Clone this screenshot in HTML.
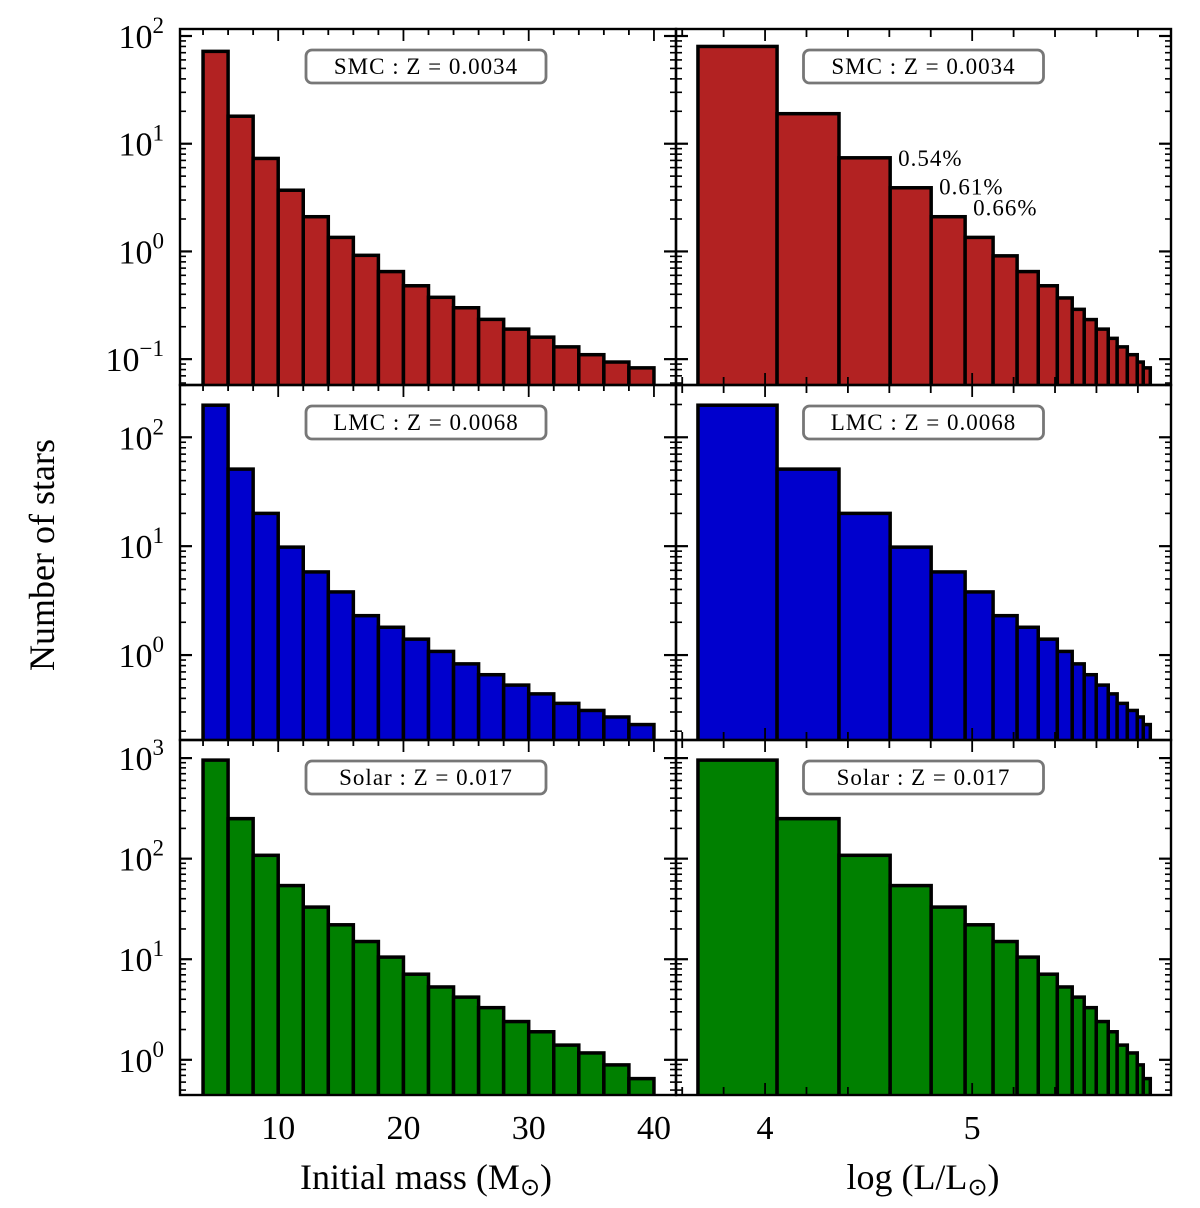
<!DOCTYPE html>
<html><head><meta charset="utf-8"><style>
body{margin:0;background:#fff;width:1200px;height:1208px;overflow:hidden}
svg{display:block;font-family:"Liberation Serif",serif}
</style></head><body>
<svg id="fig" width="1200" height="1208"></svg>
<script>
const massEdges=[4,6,8,10,12,14,16,18,20,22,24,26,28,30,32,34,36,38,40];
const lumEdges=[3.676,4.058,4.357,4.604,4.802,4.966,5.101,5.217,5.319,5.411,5.483,5.541,5.599,5.657,5.700,5.749,5.797,5.826,5.860];
const smcValues=[72,18,7.3,3.7,2.1,1.35,0.92,0.65,0.48,0.375,0.30,0.234,0.19,0.16,0.13,0.11,0.094,0.083];
const smcLumValues=[80,19,7.4,3.9,2.1,1.35,0.91,0.65,0.48,0.37,0.29,0.233,0.19,0.156,0.13,0.11,0.094,0.083];
const lmcValues=[197,51,20,9.8,5.8,3.8,2.3,1.8,1.4,1.08,0.83,0.66,0.53,0.44,0.36,0.31,0.27,0.23];
const solarValues=[955,250,108,54,33,22,15,10.5,7.1,5.3,4.2,3.3,2.4,1.9,1.4,1.17,0.89,0.65];
const rowNames=["SMC : Z = 0.0034","LMC : Z = 0.0068","Solar : Z = 0.017"];
const massTicks=[10,20,30,40];
const lumTicks=[4,5];
const pctLabels=["0.54%","0.61%","0.66%"];
const pctBins=[2,3,4];

const NS="http://www.w3.org/2000/svg";
const svg=document.getElementById('fig');
function mk(tag,attrs,parent){const e=document.createElementNS(NS,tag);for(const k in attrs)e.setAttribute(k,attrs[k]);(parent||svg).appendChild(e);return e;}
const defs=mk('defs',{});

const XL=[180,676],XR=[676,1171];
const massDom=[2.16,41.76],lumDom=[3.57,5.96];
const rows=[
 {y0:29,y1:385,lo:-1.24,hi:2.065,ticks:[-1,0,1,2],vals:smcValues,lvals:smcLumValues,color:"#b22222"},
 {y0:385,y1:740,lo:-0.78,hi:2.48,ticks:[0,1,2],vals:lmcValues,lvals:lmcValues,color:"#0000cd"},
 {y0:740,y1:1095,lo:-0.35,hi:3.18,ticks:[0,1,2,3],vals:solarValues,lvals:solarValues,color:"#008000"}];
function sx(v,dom,rng){return rng[0]+(v-dom[0])/(dom[1]-dom[0])*(rng[1]-rng[0]);}
function sy(v,r){const l=Math.log10(v);return r.y1-(l-r.lo)/(r.hi-r.lo)*(r.y1-r.y0);}

rows.forEach((r,ri)=>{
 [[XL,massDom,massEdges,r.vals,'mass'],[XR,lumDom,lumEdges,r.lvals,'lum']].forEach(([rng,dom,edges,vals,kind])=>{
  const cid=`clip-${kind}-${ri}`;
  const cp=mk('clipPath',{id:cid},defs);
  mk('rect',{x:rng[0],y:r.y0,width:rng[1]-rng[0],height:r.y1-r.y0},cp);
  const g=mk('g',{});
  
  
  const bg=mk('g',{'clip-path':`url(#${cid})`},g);
  vals.forEach((v,i)=>{
   const x0=sx(edges[i],dom,rng),x1=sx(edges[i+1],dom,rng),yt=sy(v,r);
   const b=mk('rect',{x:x0,y:yt,width:x1-x0,height:r.y1-yt+6,fill:r.color,stroke:'#000','stroke-width':3.5},bg);
   
   
  });
  for(let d=Math.floor(r.lo);d<=Math.ceil(r.hi);d++){
   for(let m=1;m<10;m++){
    const l=d+Math.log10(m); if(l<r.lo||l>r.hi)continue;
    const y=r.y1-(l-r.lo)/(r.hi-r.lo)*(r.y1-r.y0);
    const len=m==1?12:6;
    mk('line',{x1:rng[0],y1:y,x2:rng[0]+len,y2:y,stroke:'#000','stroke-width':m==1?2.2:1.6},g);
    mk('line',{x1:rng[1],y1:y,x2:rng[1]-len,y2:y,stroke:'#000','stroke-width':m==1?2.2:1.6},g);
   }
  }
  if(kind==='mass'){
   for(let v=4;v<=40;v+=2){const x=sx(v,dom,rng);const len=v%10==0?12:6;
    mk('line',{x1:x,y1:r.y1,x2:x,y2:r.y1-len,stroke:'#000','stroke-width':1.8},g);
    mk('line',{x1:x,y1:r.y0,x2:x,y2:r.y0+len,stroke:'#000','stroke-width':1.8},g);}
  }else{
   for(let k=36;k<=59;k+=2){const v=k/10;const x=sx(v,dom,rng);const len=(k%10==0)?12:8;
    mk('line',{x1:x,y1:r.y1,x2:x,y2:r.y1-len,stroke:'#000','stroke-width':1.8},g);
    mk('line',{x1:x,y1:r.y0,x2:x,y2:r.y0+len,stroke:'#000','stroke-width':1.8},g);}
  }
  mk('rect',{x:rng[0],y:r.y0,width:rng[1]-rng[0],height:r.y1-r.y0,fill:'none',stroke:'#000','stroke-width':2.4},g);
  const cx=(rng[0]+rng[1])/2+(kind==='mass'?-2:0);
  const lb=mk('g',{},g);
  
  
  mk('rect',{x:cx-120,y:r.y0+21,width:240,height:33,rx:6,fill:'#fff',stroke:'#777','stroke-width':2.8},lb);
  const t=mk('text',{x:cx,y:r.y0+45,'text-anchor':'middle','font-size':23,'letter-spacing':1,fill:'#000'},lb);
  t.textContent=rowNames[ri];
 });
 r.ticks.forEach(d=>{
  const y=r.y1-(d-r.lo)/(r.hi-r.lo)*(r.y1-r.y0);
  const t=mk('text',{x:164,y:y+12,'text-anchor':'end','font-size':34});
  
  
  t.textContent='10';
  const s=mk('tspan',{dy:-15,'font-size':23},t); s.textContent=(d<0?'−':'')+String(Math.abs(d));
 });
});
pctBins.forEach((b,i)=>{
 const r=rows[0];
 const x=sx(lumEdges[b+1],lumDom,XR)+8;
 const y=sy(smcLumValues[b+1],r)-22;
 const t=mk('text',{x:x,y:y,'font-size':23,'letter-spacing':1});
 
 
 t.textContent=pctLabels[i];
});
massTicks.forEach(v=>{
 const t=mk('text',{x:sx(v,massDom,XL),y:1139,'text-anchor':'middle','font-size':34});
 
 
 t.textContent=String(v);
});
lumTicks.forEach(v=>{
 const t=mk('text',{x:sx(v,lumDom,XR),y:1139,'text-anchor':'middle','font-size':34});
 
 
 t.textContent=String(v);
});
</script>
<svg width="1200" height="1208" style="position:absolute;left:0;top:0">
<text x="426" y="1189" text-anchor="middle" font-size="36" font-family="Liberation Serif,serif">Initial mass (M<tspan font-size="24" dy="6">⊙</tspan><tspan dy="-6">)</tspan></text>
<text x="923" y="1189" text-anchor="middle" font-size="36" font-family="Liberation Serif,serif">log (L/L<tspan font-size="24" dy="6">⊙</tspan><tspan dy="-6">)</tspan></text>
<text x="0" y="0" transform="translate(54,555) rotate(-90)" text-anchor="middle" font-size="36" font-family="Liberation Serif,serif">Number of stars</text>
</svg>
</body></html>
